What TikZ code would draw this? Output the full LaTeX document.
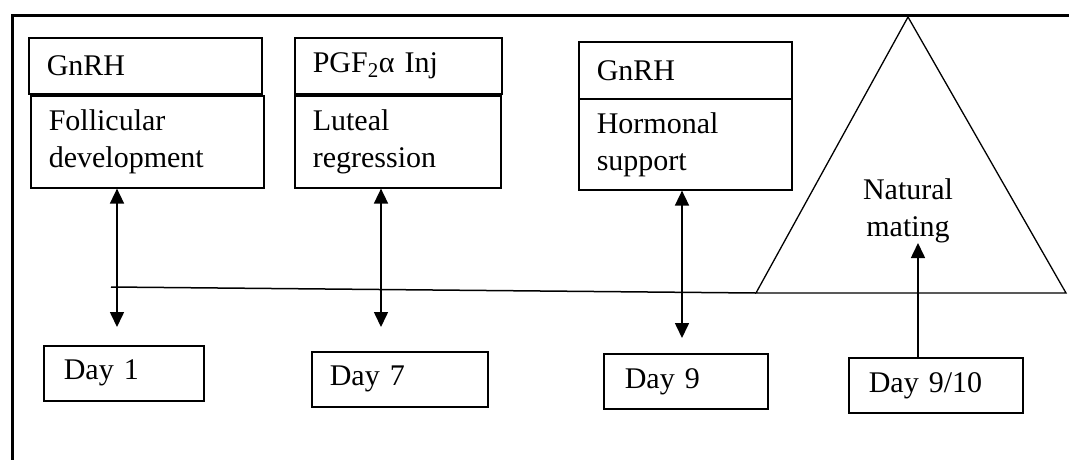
\documentclass[tikz,border=0pt]{standalone}
\usepackage{fontspec}
\setmainfont{Liberation Serif}
\usetikzlibrary{arrows.meta}
\begin{document}
\begin{tikzpicture}[x=1pt,y=-1pt,
  boxst/.style={draw, line width=1.6pt, rectangle, anchor=north west, align=left,
    inner xsep=18pt, inner ysep=0pt, font=\fontsize{30}{37}\selectfont},
  tri/.style={draw, line width=1.3pt},
  arr/.style={line width=1.6pt, -{Triangle[length=15pt,width=14pt]}},
  darr/.style={line width=1.6pt, {Triangle[length=15pt,width=14pt]}-{Triangle[length=15pt,width=14pt]}},
  lbl/.style={align=center, font=\fontsize{30}{37}\selectfont}]
\useasboundingbox (0,0) rectangle (1069,459);
% outer frame (cut at right and bottom)
\draw[line width=3pt] (12,470) -- (12,15) -- (1080,15);
% top boxes
\node[boxst, minimum width=233pt, text width=197pt, minimum height=56pt] (g1) at (28,37) {GnRH};
\node[boxst, minimum width=233pt, text width=197pt, minimum height=92pt] (fd) at (30,95) {Follicular\\development};
\node[boxst, minimum width=207pt, text width=171pt, minimum height=56pt] (pg) at (294,37) {PGF\textsubscript{2}α Inj};
\node[boxst, minimum width=206pt, text width=170pt, minimum height=92pt] (lr) at (294,95) {Luteal\\regression};
\node[boxst, minimum width=213pt, text width=177pt, minimum height=57pt] (g3) at (578,41) {GnRH};
\node[boxst, minimum width=213pt, text width=177pt, minimum height=91pt] (hs) at (578,98) {Hormonal\\support};
% day boxes
\node[boxst, minimum width=160pt, minimum height=55pt, inner xsep=20pt, text width=120pt] (d1) at (43,345) {Day 1};
\node[boxst, minimum width=176pt, text width=140pt, minimum height=55pt] (d7) at (311,351) {Day 7};
\node[boxst, minimum width=164pt, minimum height=55pt, inner xsep=21pt, text width=122pt] (d9) at (603,353) {Day 9};
\node[boxst, minimum width=174pt, minimum height=55pt, inner xsep=20pt, text width=134pt] (d10) at (848,357) {Day 9/10};
% triangle
\coordinate (ta) at (908,17);
\coordinate (tb) at (756,293);
\coordinate (tc) at (1066,293);
\draw[tri] (ta) -- (tb) -- (tc) -- cycle;
\node[lbl] (nm) at (908,211) {Natural\\mating};
% horizontal line
\coordinate (hl) at (111,287);
\draw[line width=1.5pt] (hl) -- (tb);
% arrows
\coordinate (e1) at (117,327);
\coordinate (e2) at (381,327);
\coordinate (e3) at (682,338);
\coordinate (e4) at (918,243);
\draw[darr] (e1) -- (e1 |- fd.south);
\draw[darr] (e2) -- (e2 |- lr.south);
\draw[darr] (e3) -- (e3 |- hs.south);
\draw[arr] (e4 |- d10.north) -- (e4);
\end{tikzpicture}
\end{document}
